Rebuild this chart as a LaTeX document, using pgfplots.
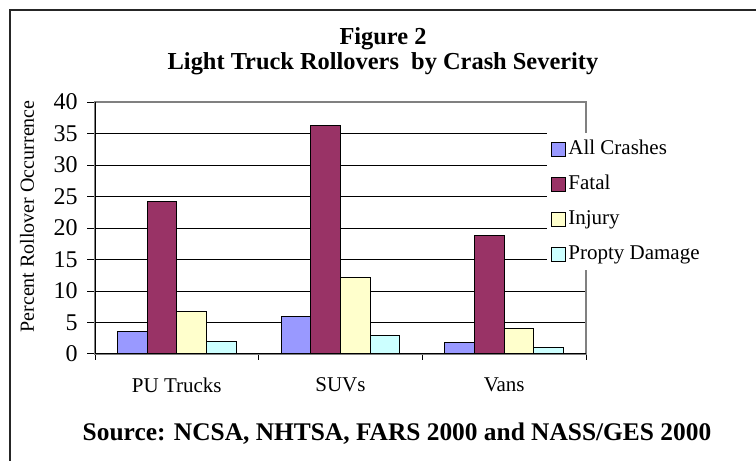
\documentclass[border=0pt]{standalone}
\usepackage{fontspec}
\setmainfont{Liberation Serif}
\usepackage{pgfplots}
\pgfplotsset{compat=1.18}
\definecolor{cAll}{HTML}{9999FF}
\definecolor{cFatal}{HTML}{993366}
\definecolor{cInj}{HTML}{FFFFCC}
\definecolor{cProp}{HTML}{CCFFFF}
\begin{document}
\begin{tikzpicture}
\path[use as bounding box] (0,0) rectangle (378pt,230.5pt);
\draw[line width=1pt, black!85] (5pt,0) -- (5pt,225.5pt) -- (378pt,225.5pt);
\node[anchor=base, font=\fontsize{12.2}{14}\selectfont\bfseries] at (191.5pt,208pt) {Figure 2};
\node[anchor=base, font=\fontsize{12.2}{14}\selectfont\bfseries] at (191.5pt,195.5pt) {Light Truck Rollovers~ by Crash Severity};
\node[anchor=base, font=\fontsize{12.7}{15}\selectfont\bfseries] at (198.5pt,10pt) {Source: NCSA, NHTSA, FARS 2000 and NASS/GES 2000};
\begin{axis}[
  at={(47.5pt,53.5pt)}, anchor=south west,
  scale only axis, width=245.5pt, height=126pt,
  ybar=0pt, bar width=14.85pt,
  xmin=-0.5, xmax=2.5, ymin=0, ymax=40,
  ytick={0,5,...,40},
  xtick={0,1,2}, xticklabels={PU Trucks,SUVs,Vans},
  minor xtick={-0.5,0.5,1.5,2.5},
  major x tick style={draw=none},
  tick align=outside, major tick length=4pt, minor tick length=3pt,
  tick style={black, line width=0.5pt},
  ymajorgrids, grid style={black, line width=0.45pt},
  axis line style={gray, line width=0.9pt},
  xtick pos=bottom, ytick pos=left,
  /pgf/number format/assume math mode=true,
  yticklabel style={font=\fontsize{12}{14}\selectfont, xshift=-1.2pt},
  xticklabel style={font=\fontsize{10.5}{12}\selectfont, yshift=-4.5pt},
  ylabel={Percent Rollover Occurrence},
  ylabel style={at={(axis description cs:-0.1385,0.546)}, anchor=center, font=\fontsize{10}{12}\selectfont},
  legend style={at={(rel axis cs:0.9206,0.877)}, anchor=north west, draw=none, fill=white,
    font=\fontsize{10.5}{12}\selectfont, inner sep=2pt, row sep=5.5pt,
    nodes={inner sep=1pt, text height=7.5pt, text depth=2.5pt}},
  legend cell align=left,
  legend image code/.code={\draw[#1, draw=black, line width=0.5pt] (0pt,-3.5pt) rectangle (7pt,3.5pt);},
  every axis plot/.append style={draw=black, line width=0.5pt},
]
\addplot[fill=cAll] coordinates {(0,3.65) (1,5.9) (2,1.9)};
\addplot[fill=cFatal] coordinates {(0,24.2) (1,36.2) (2,18.8)};
\addplot[fill=cInj] coordinates {(0,6.8) (1,12.1) (2,4.0)};
\addplot[fill=cProp] coordinates {(0,2.0) (1,2.9) (2,1.1)};
\legend{All Crashes,Fatal,Injury,Propty Damage}
\draw[black, line width=0.6pt] (rel axis cs:0,1) -- (rel axis cs:0,0) -- (rel axis cs:1,0);
\end{axis}
\end{tikzpicture}
\end{document}
